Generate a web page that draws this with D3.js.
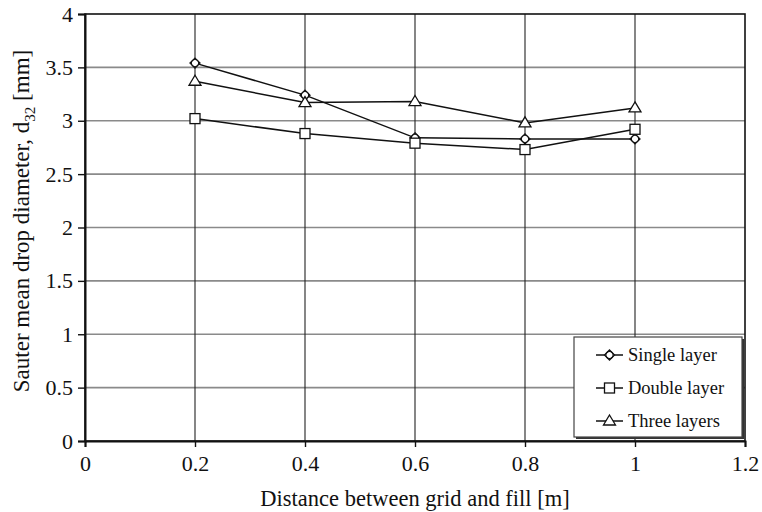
<!DOCTYPE html>
<html>
<head>
<meta charset="utf-8">
<script src="https://cdn.jsdelivr.net/npm/d3@7"></script>
<style>
  html, body { margin: 0; padding: 0; background: #fff; }
  svg { display: block; }
  svg text { font-family: "Liberation Serif", "Times New Roman", "DejaVu Serif", serif; }
</style>
</head>
<body>
<svg id="chart" width="762" height="512"></svg>
<script>
// Distance between grid and fill [m]
const distances = [0.2, 0.4, 0.6, 0.8, 1.0];
// Sauter mean drop diameter d32 [mm]
const singleLayer = [3.54, 3.24, 2.84, 2.83, 2.83];
const doubleLayer = [3.02, 2.88, 2.79, 2.73, 2.92];
const threeLayers = [3.37, 3.17, 3.18, 2.98, 3.12];
const seriesNames = ["Single layer", "Double layer", "Three layers"];
const xTicks = [0, 0.2, 0.4, 0.6, 0.8, 1, 1.2];
const yTicks = [0, 0.5, 1, 1.5, 2, 2.5, 3, 3.5, 4];

const svg = d3.select("#chart");
const plotLeft = 85, plotRight = 745, plotTop = 14, plotBottom = 441;

const x = d3.scaleLinear().domain([0, 1.2]).range([plotLeft, plotRight]);
const y = d3.scaleLinear().domain([0, 4]).range([plotBottom, plotTop]);

// horizontal gridlines
svg.append("g").selectAll("line").data(yTicks.filter(d => d > 0 && d < 4)).join("line")
  .attr("x1", plotLeft).attr("x2", plotRight)
  .attr("y1", d => y(d)).attr("y2", d => y(d))
  .attr("stroke", "#8a8a8a").attr("stroke-width", 1.6);

// vertical gridlines
svg.append("g").selectAll("line").data(xTicks.filter(d => d > 0 && d < 1.2)).join("line")
  .attr("x1", d => x(d)).attr("x2", d => x(d))
  .attr("y1", plotTop).attr("y2", plotBottom)
  .attr("stroke", "#222").attr("stroke-width", 1.1);

// frame
svg.append("rect").attr("x", plotLeft).attr("y", plotTop)
  .attr("width", plotRight - plotLeft).attr("height", plotBottom - plotTop)
  .attr("fill", "none").attr("stroke", "#111").attr("stroke-width", 1.6);

// axes
const yAxis = d3.axisLeft(y).tickValues(yTicks).tickFormat(d3.format("")).tickSize(7).tickPadding(5);
const xAxis = d3.axisBottom(x).tickValues(xTicks).tickFormat(d3.format("")).tickSize(6).tickPadding(8);

const gy = svg.append("g").attr("transform", `translate(${plotLeft},0)`).call(yAxis);
const gx = svg.append("g").attr("transform", `translate(0,${plotBottom})`).call(xAxis);
[gx, gy].forEach(g => {
  g.attr("font-family", null).attr("font-size", null);
  g.select(".domain").attr("stroke", "#111").attr("stroke-width", 2);
  g.selectAll(".tick line").attr("stroke", "#111").attr("stroke-width", 1.4);
  g.selectAll(".tick text").attr("fill", "#111").style("font-size", "22px");
});

// axis titles
svg.append("text")
  .attr("x", 415).attr("y", 506)
  .attr("text-anchor", "middle").attr("fill", "#111")
  .style("font-size", "22.5px")
  .text("Distance between grid and fill [m]");

const yt = svg.append("text")
  .attr("transform", `translate(29,221) rotate(-90)`)
  .attr("text-anchor", "middle").attr("fill", "#111")
  .style("font-size", "23px");
yt.append("tspan").text("Sauter mean drop diameter, d");
yt.append("tspan").attr("dy", 6).style("font-size", "15px").text("32");
yt.append("tspan").attr("dy", -6).text(" [mm]");

// marker shapes
function drawMarker(g, shape, cx, cy) {
  if (shape === "diamond") {
    g.append("path")
      .attr("d", `M${cx},${cy - 5}L${cx + 5},${cy}L${cx},${cy + 5}L${cx - 5},${cy}Z`)
      .attr("fill", "#fff").attr("stroke", "#111").attr("stroke-width", 1.3);
    g.append("circle").attr("cx", cx).attr("cy", cy).attr("r", 3.6)
      .attr("fill", "none").attr("stroke", "#111").attr("stroke-width", 1.1);
  } else if (shape === "square") {
    g.append("rect").attr("x", cx - 5).attr("y", cy - 5).attr("width", 10).attr("height", 10)
      .attr("fill", "#fff").attr("stroke", "#111").attr("stroke-width", 1.3);
  } else {
    g.append("path")
      .attr("d", `M${cx},${cy - 6}L${cx + 6},${cy + 4}L${cx - 6},${cy + 4}Z`)
      .attr("fill", "#fff").attr("stroke", "#111").attr("stroke-width", 1.3);
  }
}

const series = [
  { name: seriesNames[0], values: singleLayer, shape: "diamond" },
  { name: seriesNames[1], values: doubleLayer, shape: "square" },
  { name: seriesNames[2], values: threeLayers, shape: "triangle" }
];

const line = d3.line().x(d => x(d[0])).y(d => y(d[1]));
series.forEach(s => {
  const pts = distances.map((d, i) => [d, s.values[i]]);
  svg.append("path").datum(pts).attr("d", line)
    .attr("fill", "none").attr("stroke", "#111").attr("stroke-width", 1.5);
});
series.forEach(s => {
  const g = svg.append("g");
  distances.forEach((d, i) => drawMarker(g, s.shape, x(d), y(s.values[i])));
});

// legend
const lg = svg.append("g");
const lx = 574, ly = 337, lw = 168, lh = 100;
lg.append("rect").attr("x", lx + 2).attr("y", ly + 2).attr("width", lw).attr("height", lh)
  .attr("fill", "#333");
lg.append("rect").attr("x", lx).attr("y", ly).attr("width", lw).attr("height", lh)
  .attr("fill", "#fff").attr("stroke", "#444").attr("stroke-width", 1.2);
series.forEach((s, i) => {
  const cy = 355 + i * 33;
  lg.append("line").attr("x1", 596).attr("x2", 623).attr("y1", cy).attr("y2", cy)
    .attr("stroke", "#111").attr("stroke-width", 1.5);
  drawMarker(lg, s.shape, 609.5, cy);
  lg.append("text").attr("x", 628).attr("y", cy + 6)
    .attr("fill", "#111").style("font-size", "18.5px").text(s.name);
});
</script>
</body>
</html>
